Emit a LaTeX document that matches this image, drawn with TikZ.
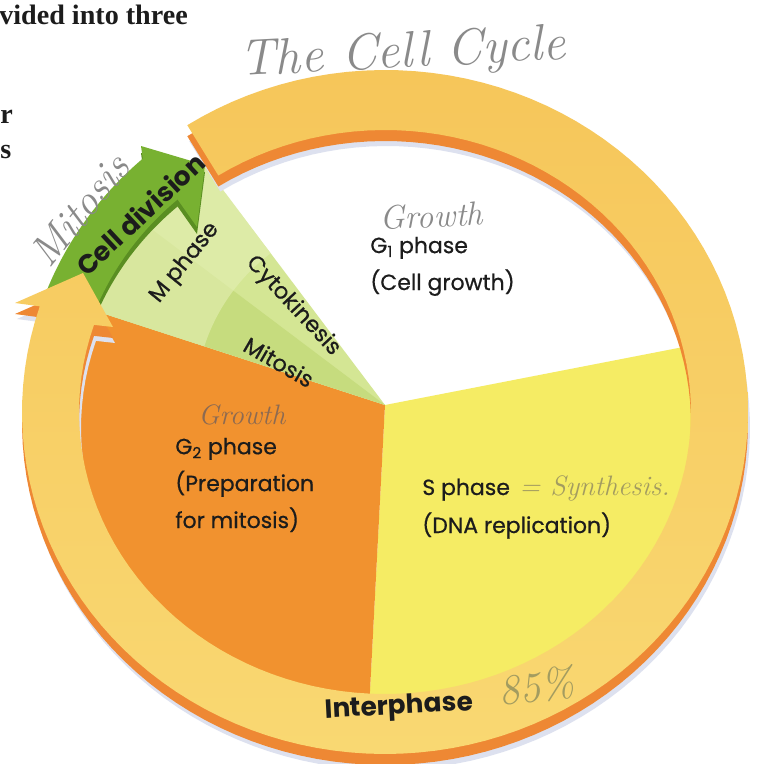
\documentclass[tikz,border=0pt]{standalone}
\usepackage{fontspec}
\setmainfont{Poppins}
\newfontfamily\labelfont{Poppins}[FakeBold=0.6]
\newfontfamily\bookfont{Liberation Serif}
\newfontfamily\handfont{Latin Modern Roman}
\usetikzlibrary{positioning}

\definecolor{ringtop}{HTML}{F6C65A}
\definecolor{ringlow}{HTML}{F9D872}
\definecolor{ringside}{HTML}{EE8834}
\definecolor{ringshade}{HTML}{DDE1EF}
\definecolor{arrowgreen}{HTML}{78B131}
\definecolor{arrowside}{HTML}{5A8E22}
\definecolor{gtwo}{HTML}{F1922F}
\definecolor{sphase}{HTML}{F5EC64}
\definecolor{mwedge}{HTML}{D4E694}
\definecolor{mitwedge}{HTML}{C6DC7E}
\definecolor{mband}{HTML}{E4EFB4}
\definecolor{ink}{HTML}{1C1C1C}
\definecolor{pencil}{HTML}{8A8A8A}
\definecolor{pencilbrown}{HTML}{8C6A52}
\definecolor{pencilolive}{HTML}{A39C60}

% ring track and arrow outlines, centre of the ring at the origin
\newcommand{\ringpath}{plot[domain=123:-198,samples=120] ({363*cos(\x)},{342*sin(\x)})
    -- (-370,109) -- (-302,139) -- (-272,85)
    -- plot[domain=-198:123,samples=120] ({306*cos(\x)},{282*sin(\x)}) -- cycle}
\newcommand{\greenarrow}{plot[domain=160:132,samples=30] ({362*cos(\x)},{341*sin(\x)})
    -- (-244,266) -- (-180,247) -- (-188,185)
    -- plot[domain=132:160,samples=30] ({310*cos(\x)},{286*sin(\x)}) -- cycle}

\tikzset{
    phase/.style={
        font=\labelfont\fontsize{12.5}{21}\selectfont,
        text=ink,
        inner sep=0pt,
        align=left
    },
    wedgetext/.style={
        font=\labelfont\fontsize{12.8}{15}\selectfont,
        text=ink,
        inner sep=0pt
    },
    bigtext/.style={
        font=\fontsize{15}{17}\selectfont\bfseries,
        text=ink,
        inner sep=0pt
    },
    pen/.style={
        font=\handfont\itshape\fontsize{#1}{#1}\selectfont,
        text=pencil,
        inner sep=0pt
    },
    book/.style={
        font=\bookfont\bfseries\fontsize{16}{19}\selectfont,
        text=ink,
        inner sep=0pt
    }
}

\begin{document}
\begin{tikzpicture}[x=0.02cm, y=-0.02cm]
\useasboundingbox (0,0) rectangle (765,764);
\fill[white] (0,0) rectangle (765,764);

\begin{scope}[shift={(385,412)}, yscale=-1]
  % sectors
  \begin{scope}
    \clip plot[domain=0:360,samples=90] ({322*cos(\x)},{298*sin(\x)});
    \begin{scope}[shift={(0,7)}]
      \fill[sphase] (0,0) -- (11:500) -- (-41:500) -- (-93:500) -- cycle;
      \fill[gtwo] (0,0) -- (162:500) -- (214:500) -- (267:500) -- cycle;
      \fill[mwedge] (0,0) -- (127:500) -- (162:500) -- cycle;
      \fill[mitwedge] (0,0) -- (143:500) -- (162:500) -- cycle;
      \fill[mband, opacity=0.6] plot[domain=127:162,samples=20] ({190*cos(\x)},{190*sin(\x)})
          -- (162:500) -- (127:500) -- cycle;
    \end{scope}
  \end{scope}
  % ring and cell division arrow
  \fill[ringshade, shift={(2,-16)}] \ringpath;
  \fill[arrowside, shift={(0,-7)}] \greenarrow;
  \fill[arrowgreen] \greenarrow;
  \fill[ringside, shift={(0,-11)}] \ringpath;
  \shade[top color=ringtop, bottom color=ringlow] \ringpath;
\end{scope}

\node[phase, anchor=base west] (g1text) at (370,290) {G\textsubscript{1} phase\\(Cell growth)};
\node[phase, anchor=base west] (g2text) at (175,528) {G\textsubscript{2} phase\\(Preparation\\for mitosis)};
\node[phase, anchor=base west] (stext) at (422,495) {S phase};
\node[phase, anchor=base west] (dnatext) at (422,533) {(DNA replication)};
\node[wedgetext, rotate=51] (mtext) at (185,263) {M phase};
\node[wedgetext, rotate=-47] (cytotext) at (293,306) {Cytokinesis};
\node[wedgetext, rotate=-30] (mitotext) at (279,362) {Mitosis};
\node[bigtext, rotate=43] (divtext) at (140,214) {Cell division};
\node[bigtext, rotate=3] (intertext) at (399,708) {Interphase};

% pencil notes
\node[pen=29, rotate=3, anchor=base west] (title) at (240,76) {The Cell Cycle};
\node[pen=24, rotate=51] (handmito) at (80,210) {Mitosis};
\node[pen=19, rotate=3, anchor=base west] (grow1) at (380,230) {Growth};
\node[pen=16, text=pencilbrown, anchor=base west] (grow2) at (198,424) {Growth};
\node[pen=16, text=pencilolive, right=5pt of stext.base east, anchor=base west] (synth) {= Synthesis.};
\node[pen=24, text=pencilolive, rotate=8, anchor=base west] (pct) at (500,706) {85\%};

% book text at the left edge
\node[book, anchor=base west] (booka) at (-1,25) {vided into three};
\node[book, anchor=base west] (bookr) at (0,123) {r};
\node[book, anchor=base west] (books) at (0,158) {s};
\end{tikzpicture}
\end{document}
